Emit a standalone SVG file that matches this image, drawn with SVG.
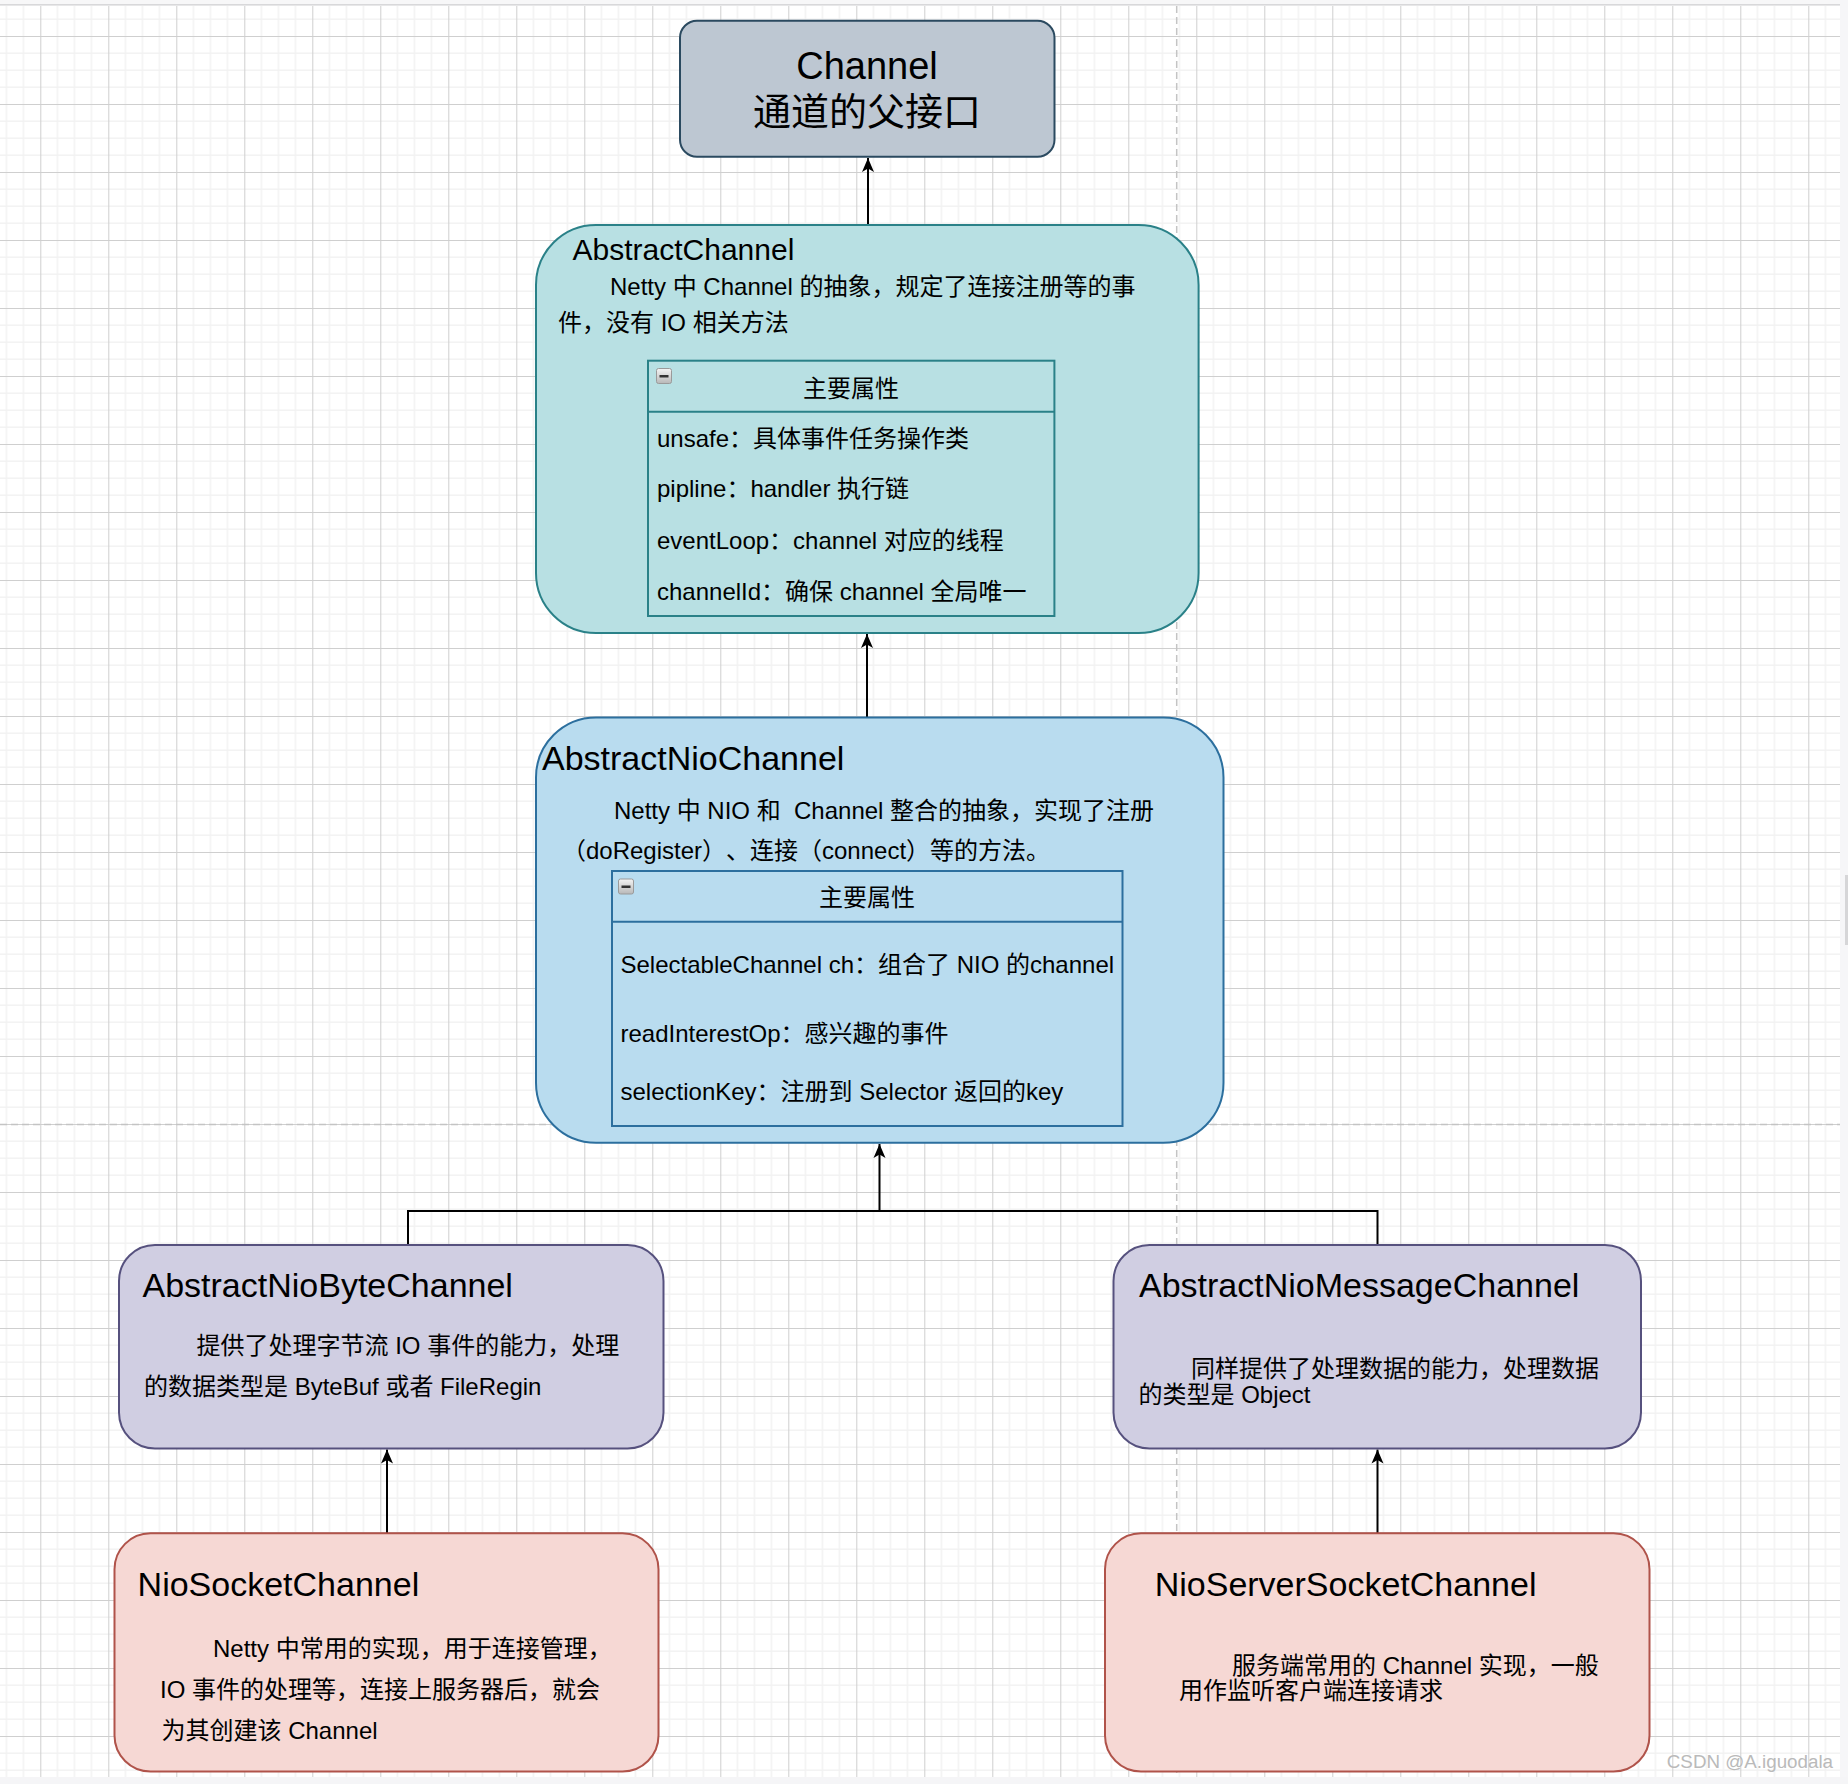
<svg xmlns="http://www.w3.org/2000/svg" width="1848" height="1784" viewBox="0 0 1848 1784">
<style>
  text { font-family: "Liberation Sans", Arial, "Noto Sans CJK SC", sans-serif; fill: #000; white-space: pre; text-spacing-trim: space-all; }
  .title { font-size: 34px; }
  .body { font-size: 24px; }
  .conn { fill: none; stroke: #000; stroke-width: 2; }
  .tbl { fill: none; stroke-width: 2; }
  .dash { stroke: #c4c4c4; stroke-width: 1.5; stroke-dasharray: 7 4; fill: none; }
</style>
<defs>
  <pattern id="grid" patternUnits="userSpaceOnUse" x="40.3" y="36" width="68" height="68">
    <rect x="0" y="0" width="68" height="68" fill="#ffffff"/>
    <rect x="16.5" y="0" width="1.4" height="68" fill="#f2f2f2"/>
    <rect x="33.5" y="0" width="1.4" height="68" fill="#f2f2f2"/>
    <rect x="50.5" y="0" width="1.4" height="68" fill="#f2f2f2"/>
    <rect x="0" y="16.5" width="68" height="1.4" fill="#f2f2f2"/>
    <rect x="0" y="33.5" width="68" height="1.4" fill="#f2f2f2"/>
    <rect x="0" y="50.5" width="68" height="1.4" fill="#f2f2f2"/>
    <rect x="0" y="0" width="1" height="68" fill="#cfcfcf"/>
    <rect x="0" y="0" width="68" height="1" fill="#cfcfcf"/>
  </pattern>
  <linearGradient id="icong" x1="0" y1="0" x2="0" y2="1">
    <stop offset="0" stop-color="#f4f4f4"/>
    <stop offset="1" stop-color="#b8b8b8"/>
  </linearGradient>
  <marker id="arr" markerUnits="userSpaceOnUse" viewBox="0 0 15 13" markerWidth="15" markerHeight="13" refX="14.5" refY="6.5" orient="auto">
    <path d="M0.5,0.5 L14.5,6.5 L0.5,12.5 L4,6.5 Z" fill="#000"/>
  </marker>
  <g id="icon">
    <rect x="0" y="0" width="15" height="15" rx="2" fill="url(#icong)" stroke="#9a9a9a" stroke-width="1"/>
    <rect x="3" y="6.5" width="9" height="2.5" fill="#333"/>
  </g>
</defs>

<!-- background -->
<rect x="0" y="0" width="1848" height="1784" fill="#ffffff"/>
<rect x="0" y="6" width="1840" height="1771" fill="url(#grid)"/>
<rect x="0" y="0" width="1848" height="4" fill="#f7f7f8"/>
<rect x="0" y="4" width="1848" height="1.6" fill="#d8d8da"/>
<rect x="1840" y="0" width="8" height="1784" fill="#f6f6f8"/>
<rect x="1845" y="875" width="3" height="70" fill="#d6d6d8"/>
<rect x="0" y="1777" width="1848" height="7" fill="#f5f5f7"/>

<!-- guide dashed lines -->
<g id="guides">
  <line class="dash" x1="1176.7" y1="6" x2="1176.7" y2="1777"/>
  <line class="dash" x1="0" y1="1124.5" x2="1840" y2="1124.5"/>
</g>

<!-- connectors -->
<g id="connectors">
  <path class="conn" d="M868,225 L868,158" marker-end="url(#arr)"/>
  <path class="conn" d="M867,717.5 L867,634" marker-end="url(#arr)"/>
  <path class="conn" d="M408,1245 L408,1211 L879.5,1211 L879.5,1144" marker-end="url(#arr)"/>
  <path class="conn" d="M1377.5,1245 L1377.5,1211 L879.5,1211"/>
  <path class="conn" d="M387,1533 L387,1449.5" marker-end="url(#arr)"/>
  <path class="conn" d="M1377.5,1533 L1377.5,1449.5" marker-end="url(#arr)"/>
</g>

<!-- Channel -->
<g id="channel">
  <rect x="680" y="20.7" width="374.5" height="136" rx="17" fill="#bdc7d2" stroke="#2b4a60" stroke-width="2"/>
  <text x="867" y="79" font-size="38" text-anchor="middle">Channel</text>
  <text x="867" y="125" font-size="38" text-anchor="middle">通道的父接口</text>
</g>

<!-- AbstractChannel -->
<g id="abstractChannel">
  <rect x="536" y="225" width="662.6" height="408" rx="60" fill="#b8e0e3" stroke="#2a8188" stroke-width="2"/>
  <text x="572.5" y="260" font-size="30">AbstractChannel</text>
  <text class="body" x="610" y="295">Netty 中 Channel 的抽象，规定了连接注册等的事</text>
  <text class="body" x="558" y="331">件，没有 IO 相关方法</text>
  <g id="abstractChannelProps">
    <rect class="tbl" x="648" y="360.7" width="406.4" height="255.3" stroke="#2a8188"/>
    <line class="tbl" x1="648" y1="411.7" x2="1054.4" y2="411.7" stroke="#2a8188"/>
    <use href="#icon" x="656.5" y="368.5"/>
    <text class="body" x="851" y="397" text-anchor="middle">主要属性</text>
    <text class="body" x="657" y="447">unsafe：具体事件任务操作类</text>
    <text class="body" x="657" y="497">pipline：handler 执行链</text>
    <text class="body" x="657" y="549">eventLoop：channel 对应的线程</text>
    <text class="body" x="657" y="600">channelId：确保 channel 全局唯一</text>
  </g>
</g>

<!-- AbstractNioChannel -->
<g id="abstractNioChannel">
  <rect x="536" y="717.5" width="687.5" height="425.3" rx="60" fill="#b9dcef" stroke="#2c6f9e" stroke-width="2"/>
  <text class="title" x="542" y="770">AbstractNioChannel</text>
  <text class="body" x="614" y="819">Netty 中 NIO 和  Channel 整合的抽象，实现了注册</text>
  <text class="body" x="562" y="859" textLength="488" lengthAdjust="spacing">（doRegister）、连接（connect）等的方法。</text>
  <g id="abstractNioChannelProps">
    <rect class="tbl" x="612" y="871" width="510.5" height="255" stroke="#2c6f9e"/>
    <line class="tbl" x1="612" y1="921.7" x2="1122.5" y2="921.7" stroke="#2c6f9e"/>
    <use href="#icon" x="618.5" y="879"/>
    <text class="body" x="867" y="906" text-anchor="middle">主要属性</text>
    <text class="body" x="620.5" y="973">SelectableChannel ch：组合了 NIO 的channel</text>
    <text class="body" x="620.5" y="1042">readInterestOp：感兴趣的事件</text>
    <text class="body" x="620.5" y="1100">selectionKey：注册到 Selector 返回的key</text>
  </g>
</g>

<!-- AbstractNioByteChannel -->
<g id="abstractNioByteChannel">
  <rect x="119" y="1245" width="544.5" height="203.5" rx="36" fill="#d0cee2" stroke="#56517e" stroke-width="2"/>
  <text class="title" x="142.5" y="1297">AbstractNioByteChannel</text>
  <text class="body" x="196.5" y="1353.5">提供了处理字节流 IO 事件的能力，处理</text>
  <text class="body" x="144" y="1395">的数据类型是 ByteBuf 或者 FileRegin</text>
</g>

<!-- AbstractNioMessageChannel -->
<g id="abstractNioMessageChannel">
  <rect x="1113.5" y="1245" width="527.5" height="203.5" rx="36" fill="#d0cee2" stroke="#56517e" stroke-width="2"/>
  <text class="title" x="1139" y="1297">AbstractNioMessageChannel</text>
  <text class="body" x="1191" y="1377">同样提供了处理数据的能力，处理数据</text>
  <text class="body" x="1138.5" y="1402.7">的类型是 Object</text>
</g>

<!-- NioSocketChannel -->
<g id="nioSocketChannel">
  <rect x="114.5" y="1533.3" width="544" height="238.3" rx="36" fill="#f6d8d4" stroke="#b0534a" stroke-width="2"/>
  <text class="title" x="137.6" y="1596">NioSocketChannel</text>
  <text class="body" x="213" y="1656.7">Netty 中常用的实现，用于连接管理，</text>
  <text class="body" x="160" y="1698.3">IO 事件的处理等，连接上服务器后，就会</text>
  <text class="body" x="161.5" y="1739.3">为其创建该 Channel</text>
</g>

<!-- NioServerSocketChannel -->
<g id="nioServerSocketChannel">
  <rect x="1105" y="1533.3" width="544.5" height="238.3" rx="36" fill="#f6d8d4" stroke="#b0534a" stroke-width="2"/>
  <text class="title" x="1154.7" y="1596">NioServerSocketChannel</text>
  <text class="body" x="1232" y="1674">服务端常用的 Channel 实现，一般</text>
  <text class="body" x="1179" y="1699">用作监听客户端连接请求</text>
</g>

<text x="1666.8" y="1768" font-size="18.8" style="fill:#bababa">CSDN @A.iguodala</text>
</svg>
